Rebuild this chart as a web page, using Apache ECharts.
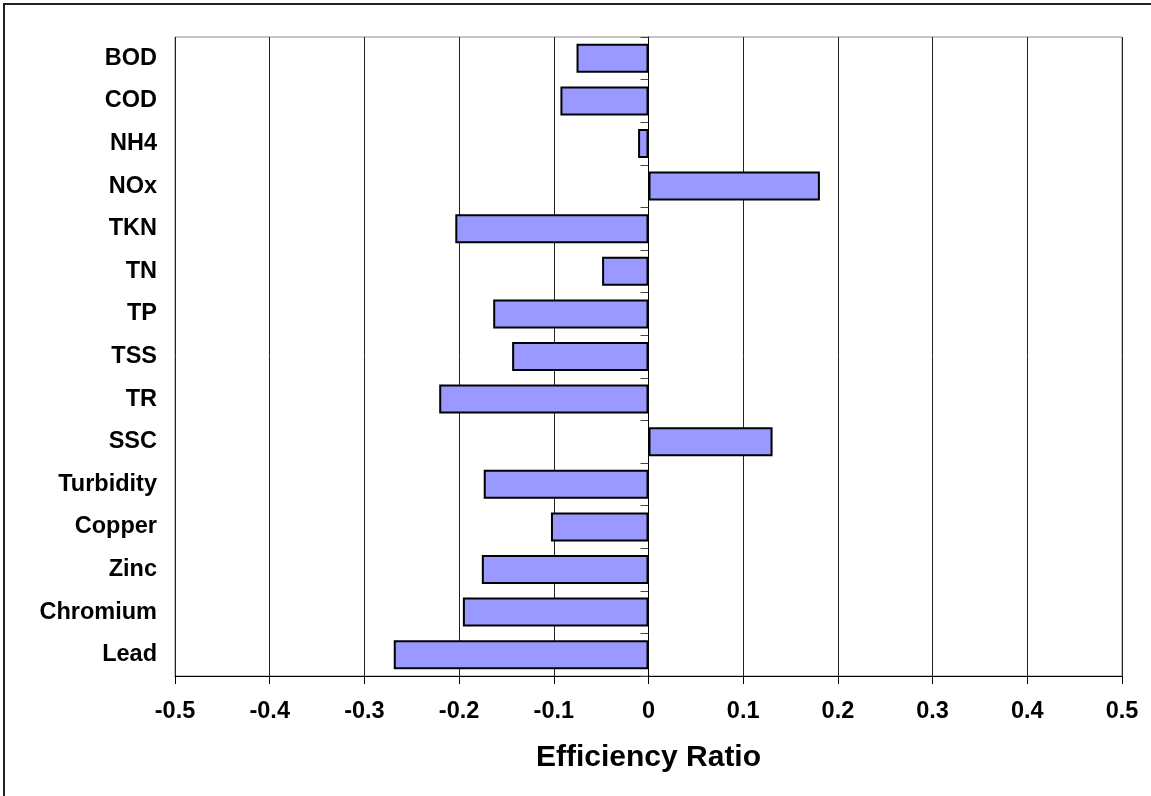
<!DOCTYPE html>
<html>
<head>
<meta charset="utf-8">
<title>Efficiency Ratio</title>
<script src="https://cdn.jsdelivr.net/npm/echarts@6/dist/echarts.min.js"></script>
<style>
  html, body { margin: 0; padding: 0; background: #fff; }
  #chart { width: 1151px; height: 796px; }
</style>
</head>
<body>
<div id="chart"></div>
<script>
// Water-quality parameters, listed top to bottom
const categories = ['BOD', 'COD', 'NH4', 'NOx', 'TKN', 'TN', 'TP', 'TSS', 'TR', 'SSC',
  'Turbidity', 'Copper', 'Zinc', 'Chromium', 'Lead'];

// Efficiency ratio for each parameter
const ratios = [-0.076, -0.093, -0.011, 0.181, -0.204, -0.049, -0.164, -0.144, -0.221, 0.131,
  -0.174, -0.103, -0.176, -0.196, -0.269];

// Horizontal value axis range and step
const xMin = -0.5;
const xMax = 0.5;
const xStep = 0.1;
const xTitle = 'Efficiency Ratio';

const font = 'Liberation Sans, Arial, Helvetica, sans-serif';

const chart = echarts.init(document.getElementById('chart'), null, { renderer: 'canvas' });

chart.setOption({
  animation: false,
  backgroundColor: '#ffffff',
  graphic: [{
    type: 'rect',
    shape: { x: 4, y: 4, width: 1200, height: 850 },
    style: { fill: 'none', stroke: '#222', lineWidth: 2 },
    silent: true
  }],
  grid: {
    left: 175, right: 29, top: 37, bottom: 120,
    show: true, borderColor: '#8a8a8a', borderWidth: 1,
    containLabel: false
  },
  xAxis: {
    type: 'value',
    min: xMin, max: xMax, interval: xStep,
    name: xTitle,
    nameLocation: 'middle',
    nameGap: 67,
    nameTextStyle: { fontFamily: font, fontWeight: 'bold', fontSize: 30, color: '#000' },
    axisLine: { show: true, onZero: false, lineStyle: { color: '#000', width: 1 } },
    axisTick: { show: true, length: 8, lineStyle: { color: '#000' } },
    axisLabel: {
      margin: 24,
      fontFamily: font, fontWeight: 'bold', fontSize: 23.5, color: '#000',
      formatter: v => String(Math.round(v * 10) / 10)
    },
    splitLine: { show: true, lineStyle: { color: '#222', width: 1 } }
  },
  yAxis: [{
    type: 'category',
    data: categories,
    inverse: true,
    position: 'left',
    axisLine: { show: false, onZero: false },
    axisTick: { show: false },
    axisLabel: {
      margin: 18,
      fontFamily: font, fontWeight: 'bold', fontSize: 23.5, color: '#000'
    },
    splitLine: { show: false }
  }, {
    // zero-crossing axis with category ticks
    type: 'category',
    data: categories,
    inverse: true,
    position: 'left',
    axisLine: { show: true, onZero: true, lineStyle: { color: '#000', width: 1 } },
    axisTick: { show: true, length: 8, lineStyle: { color: '#444' } },
    axisLabel: { show: false },
    splitLine: { show: false }
  }],
  series: [{
    type: 'bar',
    yAxisIndex: 0,
    data: ratios,
    barWidth: '68%',
    itemStyle: { color: '#9999ff', borderColor: '#000', borderWidth: 2 }
  }]
});
</script>
</body>
</html>
